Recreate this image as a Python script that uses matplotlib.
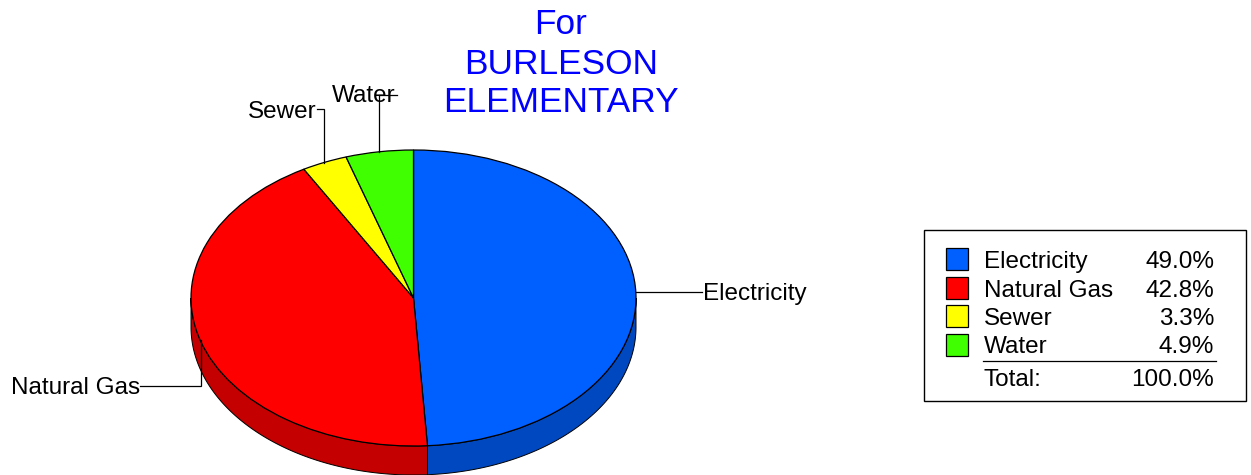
import numpy as np
import matplotlib
matplotlib.use("Agg")
import matplotlib.pyplot as plt
from matplotlib.patches import Rectangle

plt.rcParams['font.family'] = ['Liberation Sans', 'DejaVu Sans']

categories = ["Electricity", "Natural Gas", "Sewer", "Water"]
shares = [49.0, 42.8, 3.3, 4.9]
share_labels = ["49.0%", "42.8%", "3.3%", "4.9%"]
total_label = "100.0%"
title_lines = ["For", "BURLESON", "ELEMENTARY"]
top_colors = ["#0060FF", "#FF0000", "#FFFF00", "#40FF00"]
side_colors = ["#0048C0", "#C40000", "#C0C000", "#30C000"]

W, H = 1251, 475
CX, CY, RX, RY, DEPTH = 413.5, 298.0, 222.5, 148.0, 29.0
EDGE = 0.9
FS = 17.45

fig = plt.figure(figsize=(W / 100, H / 100), dpi=100, facecolor="white")

# Pie axes: data units are pie radii, so the unit circle renders as the ellipse
ax = fig.add_axes([0, 0, 1, 1])
wedges, _ = ax.pie(shares, colors=top_colors, startangle=90, counterclock=False,
                   radius=1.0, center=(0, 0), normalize=True,
                   wedgeprops=dict(edgecolor="black", linewidth=EDGE, zorder=5))
ax.set_aspect("auto")
ax.set_xlim(-CX / RX, (W - CX) / RX)
ax.set_ylim((CY - H) / RY, CY / RY)
ax.axis("off")

# Side wall of the visible (lower) half
depth = DEPTH / RY
boundaries = 90 - np.cumsum([0] + shares) * 3.6
for i, col in enumerate(side_colors):
    a0, a1 = boundaries[i + 1], boundaries[i]
    lo, hi = max(a0, -180), min(a1, 0)
    if hi <= lo:
        continue
    t = np.radians(np.linspace(lo, hi, 200))
    x, y = np.cos(t), np.sin(t)
    ax.fill(np.r_[x, x[::-1]], np.r_[y, y[::-1] - depth], facecolor=col,
            edgecolor="black", linewidth=0.7, zorder=2)

# Overlay in pixel coordinates for annotation furniture
ov = fig.add_axes([0, 0, 1, 1], facecolor="none")
ov.set_xlim(0, W)
ov.set_ylim(H, 0)
ov.axis("off")

for line, y in zip(title_lines, [25, 64, 103]):
    ov.text(561, y, line, color="#0000FF", fontsize=25.4, ha="center", va="center")

leaders = {
    "Electricity": ([636, 702], [292, 292], 703, 294, "left"),
    "Natural Gas": ([140, 200.5, 200.5], [386, 386, 340], 140, 388, "right"),
    "Sewer": ([317, 324, 324], [109, 109, 163], 317, 112, "right"),
    "Water": ([397, 379, 379], [95, 95, 152], 332, 96, "left"),
}
for name in categories:
    xs, ys, tx, ty, ha = leaders[name]
    ov.text(tx, ty, name, fontsize=FS, ha=ha, va="center", color="black")
    ov.plot(xs, ys, color="black", lw=0.9, solid_joinstyle="miter")

# Legend table
ov.add_patch(Rectangle((924, 230), 322, 171, facecolor="white", edgecolor="black", lw=1.0))
rows = [262, 291, 319, 347]
swatch_tops = [248, 277, 305, 334]
for name, pct, col, y, top in zip(categories, share_labels, top_colors, rows, swatch_tops):
    ov.add_patch(Rectangle((946, top), 22, 22, facecolor=col, edgecolor="black", lw=0.9))
    ov.text(984, y, name, fontsize=FS, ha="left", va="center")
    ov.text(1214, y, pct, fontsize=FS, ha="right", va="center")
ov.plot([983, 1216], [361, 361], color="black", lw=0.9)
ov.text(984, 380, "Total:", fontsize=FS, ha="left", va="center")
ov.text(1214, 380, total_label, fontsize=FS, ha="right", va="center")

fig.savefig("out.png", dpi=100, facecolor="white")
